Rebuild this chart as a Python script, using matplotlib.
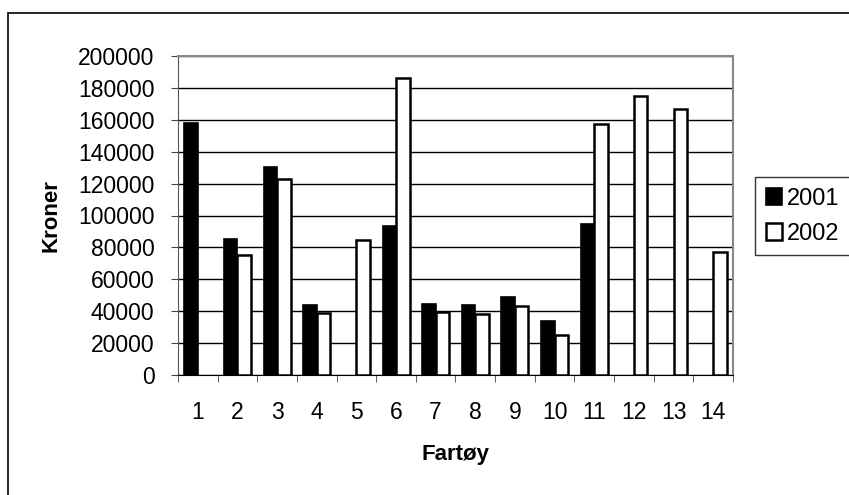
import matplotlib
matplotlib.use('Agg')
import matplotlib.pyplot as plt
import numpy as np
from matplotlib.patches import Rectangle

plt.rcParams['font.family'] = ['Liberation Sans', 'DejaVu Sans']

# data (0 = no bar)
fartoy = ['1', '2', '3', '4', '5', '6', '7', '8', '9', '10', '11', '12', '13', '14']
kr_2001 = [158000, 85000, 130500, 44000, 0, 93500, 44500, 43800, 48700, 34000, 94800, 0, 0, 0]
kr_2002 = [0, 75500, 123000, 39000, 84700, 186300, 39200, 38200, 43300, 25300, 157500, 175000, 166500, 77000]
years = ['2001', '2002']

fig = plt.figure(figsize=(8.49, 4.95), dpi=100)
# outer frame (like the pasted chart object)
fig.patches.append(Rectangle((8/849, -0.1), 1.1, 1 - 13/495 + 0.1, transform=fig.transFigure,
                             fill=False, edgecolor='black', linewidth=1.2))

ax = fig.add_axes([178/849, 1 - 375/495, (733 - 178)/849, (375 - 56)/495])

x = np.arange(len(fartoy))
w = 0.34
v1 = np.array(kr_2001, dtype=float)
v2 = np.array(kr_2002, dtype=float)
m1 = v1 > 0
m2 = v2 > 0
ax.bar(x[m1] - w/2, v1[m1], w, color='black', edgecolor='black', linewidth=1.2, label=years[0], zorder=3)
ax.bar(x[m2] + w/2, v2[m2], w, color='white', edgecolor='black', linewidth=1.8, label=years[1], zorder=3)

ax.set_xlim(-0.5, len(fartoy) - 0.5)
ax.set_ylim(0, 200000)
ax.set_yticks(np.arange(0, 200001, 20000))
ax.yaxis.grid(True, color='black', linewidth=1.0, zorder=0)
ax.set_axisbelow(True)

ax.set_xticks(x)
ax.set_xticklabels(fartoy)
ax.set_xticks(np.arange(-0.5, len(fartoy)), minor=True)
ax.tick_params(axis='x', which='major', length=0, pad=19, labelsize=16.5)
ax.tick_params(axis='x', which='minor', length=5, direction='out', color='#444444')
ax.tick_params(axis='y', length=5, direction='out', pad=12, labelsize=16.5, color='#444444')

for s in ['top', 'right']:
    ax.spines[s].set_color('#888888')
    ax.spines[s].set_linewidth(1.5)
ax.spines['left'].set_color('#555555')
ax.spines['bottom'].set_color('black')

ax.set_ylabel('Kroner', fontsize=16, fontweight='bold', labelpad=12)
ax.set_xlabel('Fartøy', fontsize=16, fontweight='bold', labelpad=14)

leg = fig.legend(loc='upper left', bbox_to_anchor=(755/849, 1 - 177/495), fontsize=17,
                 frameon=True, fancybox=False, edgecolor='black', handlelength=0.7,
                 handleheight=0.7, handletextpad=0.2, borderpad=0.45, labelspacing=0.55,
                 borderaxespad=0)
leg.get_frame().set_linewidth(1.0)

fig.savefig('out.png', dpi=100)
